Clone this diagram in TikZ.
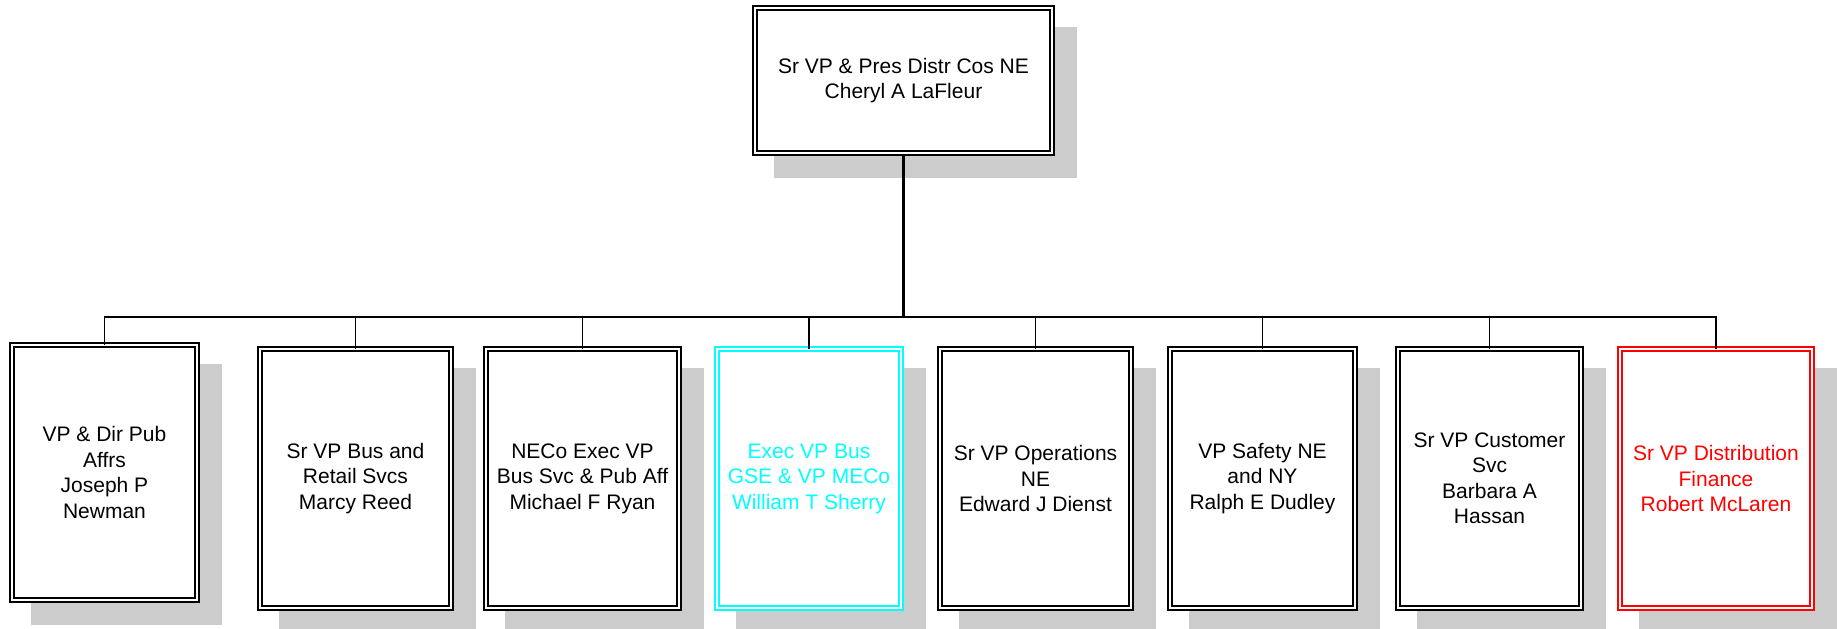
\documentclass[tikz,border=0pt]{standalone}
\usepackage{fontspec}
\setmainfont{Liberation Sans}
\usetikzlibrary{shadows}
\definecolor{shadowgray}{HTML}{CCCCCC}
\definecolor{pcyan}{RGB}{0,255,255}
\definecolor{pred}{RGB}{255,0,0}
\tikzset{
  orgbox/.style={draw=black, fill=white, rectangle, double=white, double distance=2.4pt, line width=1.7pt,
    align=center, inner sep=2pt, font=\fontsize{21}{25.5}\selectfont, text=black,
    general shadow={fill=shadowgray, draw=shadowgray, line width=6pt, shadow xshift=22pt, shadow yshift=-22pt}},
  topbox/.style={orgbox, minimum width=297.5pt, minimum height=145.5pt},
  kidbox/.style={orgbox, minimum height=259.5pt},
  cyanbox/.style={draw=pcyan, text=pcyan},
  redbox/.style={draw=pred, text=pred},
  conn/.style={draw=black, line width=1.8pt},
}
\begin{document}
\begin{tikzpicture}[x=1pt, y=-1pt]
\useasboundingbox (0,0) rectangle (1837,629);
\clip (0,0) rectangle (1837,629);
\node[topbox] (top) at (903.5,80.5) {Sr VP \& Pres Distr Cos NE\\Cheryl A LaFleur};
\node[orgbox, minimum width=185.5pt, minimum height=255.5pt] (c1) at (104.5,472.5) {VP \& Dir Pub\\Affrs\\Joseph P\\Newman};
\node[kidbox, minimum width=191.5pt] (c2) at (355.5,478.5) {Sr VP Bus and\\Retail Svcs\\Marcy Reed};
\node[kidbox, minimum width=193.5pt] (c3) at (582.5,478.5) {NECo Exec VP\\Bus Svc \& Pub Aff\\Michael F Ryan};
\node[kidbox, cyanbox, minimum width=184.5pt] (c4) at (809,478.5) {Exec VP Bus\\GSE \& VP MECo\\William T Sherry};
\node[kidbox, minimum width=191.5pt] (c5) at (1035.5,478.5) {Sr VP Operations\\NE\\Edward J Dienst};
\node[kidbox, minimum width=185.5pt] (c6) at (1262.5,478.5) {VP Safety NE\\and NY\\Ralph E Dudley};
\node[kidbox, minimum width=183.5pt] (c7) at (1489.5,478.5) {Sr VP Customer\\Svc\\Barbara A\\Hassan};
\node[kidbox, redbox, minimum width=192.5pt] (c8) at (1716,478.5) {Sr VP Distribution\\Finance\\Robert McLaren};
\coordinate (bus) at (903.5,317);
\draw[conn, line width=2.2pt] (top.south) -- (bus);
\draw[conn, line cap=rect] (c1.north |- bus) -- (c8.north |- bus);
\foreach \c in {c1,c2,c3,c4,c5,c6,c7,c8}{
  \draw[conn, line width=1.6pt] (\c.north |- bus) -- ([yshift=-1.5pt]\c.north);
}
\end{tikzpicture}
\end{document}
